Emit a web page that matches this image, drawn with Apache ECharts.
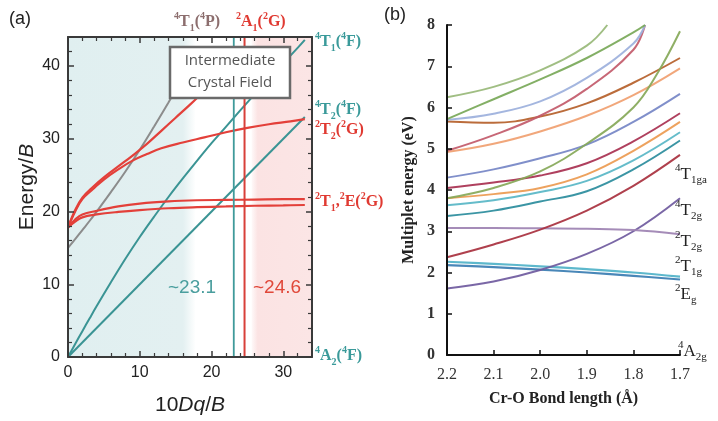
<!DOCTYPE html>
<html><head><meta charset="utf-8">
<script src="https://cdn.jsdelivr.net/npm/echarts@6/dist/echarts.min.js"></script>
<style>html,body{margin:0;padding:0;background:#fff}#c{width:718px;height:421px}</style>
</head><body><div id="c"></div>
<script>
// ---------- Panel (a): Tanabe-Sugano style diagram ----------
const aXs   = [0,1,2,3,4,6,8,10,12,14,16,18,20,22,24,26,28,30,32,33];
const a4T1F = [0,1.79,3.55,5.29,7.0,10.3,13.5,16.5,19.3,22.0,24.55,27.0,29.4,31.65,33.9,36.1,38.3,40.4,42.5,43.6];
const a4T1P_x = [0,1,2,3,4,6,8,10,12,14,16];
const a4T1P   = [15.0,16.2,17.45,18.7,20.0,22.7,25.5,28.5,31.7,35.0,38.4];
const a4T2_x = [0,33];
const a4T2   = [0,33];
const a4A2_x = [0,34];
const a4A2   = [0,0];
const a2A1_x = [0,1,2,3.5,5,7,9,11,13,15,17,19,21];
const a2A1   = [17.8,20.2,21.9,23.4,24.7,26.2,27.7,29.3,31.1,32.9,34.7,36.6,38.5];
const a2T2_x = [0,1,2,3.5,5,7,9,11,13,16,19,22,25,28,31,33];
const a2T2   = [17.8,20.0,21.7,23.1,24.4,25.8,27.0,27.9,28.7,29.5,30.2,30.9,31.5,32.0,32.4,32.7];
const aFlat_x = [0,1,2,4,7,10,14,18,22,26,30,33];
const a2T1   = [17.8,18.9,19.6,20.1,20.7,21.1,21.4,21.55,21.6,21.65,21.7,21.7];
const a2E    = [17.8,18.6,19.2,19.6,19.95,20.2,20.45,20.6,20.7,20.8,20.85,20.9];
const aCritical = [23.1, 24.6];
const aWeakRange = [0, 17.8];
const aStrongRange = [25.6, 34];

// ---------- Panel (b): multiplet energies vs Cr-O bond length ----------
const bR = [2.2,2.1,2.0,1.9,1.8,1.7];
const b4A2g   = [0,0,0,0,0,0];
const b2Eg    = [2.18,2.13,2.07,2.0,1.92,1.83];
const b2T1g   = [2.26,2.21,2.15,2.08,2.0,1.9];
const b4T2g   = [1.61,1.78,2.06,2.45,3.0,3.8];
const b2T2g   = [3.08,3.08,3.07,3.06,3.03,2.93];
const b4T1ga  = [2.37,2.68,3.04,3.5,4.1,4.85];
const bTeal   = [3.37,3.5,3.72,3.97,4.5,5.2];
const bCyan   = [3.63,3.75,3.95,4.22,4.72,5.4];
const bOrange = [3.8,3.9,4.05,4.38,4.95,5.65];
const bDarkRed= [4.05,4.18,4.35,4.65,5.18,5.86];
const bBlueP  = [4.3,4.5,4.77,5.1,5.65,6.33];
const bSalmon = [4.92,5.12,5.42,5.8,6.3,6.95];
const bBrown  = [5.66,5.63,5.78,6.1,6.6,7.2];
const bGreenS_x = [2.2,2.1,2.0,1.9,1.8,1.75,1.7];
const bGreenS   = [3.8,4.05,4.45,5.12,6.0,6.8,7.85];
const bTop_x  = [2.2,2.1,2.0,1.9,1.8,1.775];
const bMauve  = [4.95,5.33,5.8,6.45,7.4,8.0];
const bLightB = [5.7,5.85,6.15,6.72,7.55,8.0];
const bGreenM = [5.72,6.2,6.68,7.2,7.82,8.0];
const bGreenT_x = [2.2,2.1,2.0,1.9,1.856];
const bGreenT   = [6.25,6.5,6.9,7.5,8.0];

const pairs = (xs, ys) => xs.map((x, i) => [x, ys[i]]);

const TEAL = '#3a9494', RED = '#e3403a', GREY = '#8c8c8c';
function lineA(xs, ys, color, w, extra) {
  return Object.assign({type:'line', xAxisIndex:0, yAxisIndex:0, data:pairs(xs, ys), smooth:0.4,
    showSymbol:false, symbol:'none', lineStyle:{color, width:w}, silent:true, z:3}, extra || {});
}
function lineB(xs, ys, color, w) {
  return {type:'line', xAxisIndex:2, yAxisIndex:2, data:pairs(xs, ys), smooth:0.4,
    showSymbol:false, symbol:'none', lineStyle:{color, width:w || 2, opacity:0.92}, silent:true, z:3};
}
function rich(color, size, weight) {
  const f = 'Liberation Serif', s = Math.round(size*0.62);
  return {
    m:{color, fontSize:size, fontWeight:weight, fontFamily:f, lineHeight:size+6, verticalAlign:'middle'},
    p:{color, fontSize:s, fontWeight:weight, fontFamily:f, lineHeight:s+2, verticalAlign:'top'},
    b:{color, fontSize:s, fontWeight:weight, fontFamily:f, lineHeight:s+2, verticalAlign:'bottom'}
  };
}
function lab(text, left, top, color, size, weight) {
  return {text, left, top, padding:0, z:20, textStyle:{rich:rich(color, size, weight)}};
}
const DARK = '#3a3a3a';
const commonA = {type:'value', z:10, splitLine:{show:false},
  axisLine:{show:true, onZero:false, lineStyle:{color:DARK, width:2}},
  axisTick:{show:true, inside:true, length:6, lineStyle:{color:DARK, width:1.5}},
  minorTick:{show:true, splitNumber:5, length:4, lineStyle:{color:DARK, width:1.2}}};
const fmt10 = v => (Math.abs(v % 10) < 1e-6 ? String(v) : '');
const axisB = {type:'value', z:10, splitLine:{show:false},
  axisLine:{show:true, onZero:false, lineStyle:{color:'#111', width:2}},
  axisTick:{show:true, inside:true, length:5, lineStyle:{color:'#111', width:1.5}}};

const option = {
  animation:false,
  backgroundColor:'#fff',
  title:[
    {text:'(a)', left:9, top:10, padding:0, textStyle:{fontFamily:'Liberation Sans', fontSize:18, fontWeight:'normal', color:'#222'}},
    {text:'(b)', left:384, top:6, padding:0, textStyle:{fontFamily:'Liberation Sans', fontSize:18, fontWeight:'normal', color:'#222'}},
    lab('{p|4}{m|T}{b|1}{m|(}{p|4}{m|P)}', 174, 11, '#8c6e6e', 16, 'bold'),
    lab('{p|2}{m|A}{b|1}{m|(}{p|2}{m|G)}', 236, 11, '#e03a32', 16, 'bold'),
    lab('{p|4}{m|T}{b|1}{m|(}{p|4}{m|F)}', 315, 31, '#3a9a9a', 16, 'bold'),
    lab('{p|4}{m|T}{b|2}{m|(}{p|4}{m|F)}', 315, 99, '#3a9a9a', 16, 'bold'),
    lab('{p|2}{m|T}{b|2}{m|(}{p|2}{m|G)}', 315, 119, '#e03a32', 16, 'bold'),
    lab('{p|2}{m|T}{b|1}{m|,}{p|2}{m|E(}{p|2}{m|G)}', 315, 191, '#e03a32', 16, 'bold'),
    lab('{p|4}{m|A}{b|2}{m|(}{p|4}{m|F)}', 315, 345, '#3a9a9a', 16, 'bold'),
    {text:'~23.1', left:168, top:278, padding:0, textStyle:{fontFamily:'Liberation Sans', fontSize:19, fontWeight:'normal', color:'#4a9e9e', lineHeight:20}},
    {text:'~24.6', left:253, top:278, padding:0, textStyle:{fontFamily:'Liberation Sans', fontSize:19, fontWeight:'normal', color:'#e0483a', lineHeight:20}},
    lab('{p|4}{m|T}{b|1ga}', 675, 163, '#222', 17, 'normal'),
    lab('{p|4}{m|T}{b|2g}', 675, 199, '#222', 17, 'normal'),
    lab('{p|2}{m|T}{b|2g}', 675, 230, '#222', 17, 'normal'),
    lab('{p|2}{m|T}{b|1g}', 675, 255, '#222', 17, 'normal'),
    lab('{p|2}{m|E}{b|g}', 675, 283, '#222', 17, 'normal'),
    lab('{p|4}{m|A}{b|2g}', 678, 340, '#222', 17, 'normal')
  ],
  grid:[
    {left:68, top:37, width:244, height:320},
    {left:447, top:25, width:233, height:330}
  ],
  xAxis:[
    Object.assign({}, commonA, {gridIndex:0, min:0, max:34, interval:10, position:'bottom',
      axisLabel:{fontFamily:'Liberation Sans', fontSize:16, color:'#222', margin:8, formatter:fmt10},
      name:'10{i|Dq}/{i|B}', nameLocation:'middle', nameGap:38,
      nameTextStyle:{fontFamily:'Liberation Sans', fontSize:21, color:'#222',
        rich:{i:{fontFamily:'Liberation Sans', fontSize:21, fontStyle:'italic', color:'#222'}}}}),
    Object.assign({}, commonA, {gridIndex:0, min:0, max:34, interval:10, position:'top',
      axisLabel:{show:false}}),
    Object.assign({}, axisB, {gridIndex:1, inverse:true, min:1.7, max:2.2, interval:0.1,
      axisLabel:{fontFamily:'Liberation Serif', fontSize:16, color:'#333', margin:12, formatter:v => v.toFixed(1)},
      name:'Cr-O Bond length (Å)', nameLocation:'middle', nameGap:36,
      nameTextStyle:{fontFamily:'Liberation Serif', fontSize:16, fontWeight:'bold', color:'#222'}})
  ],
  yAxis:[
    Object.assign({}, commonA, {gridIndex:0, min:0, max:44, interval:10, position:'left',
      axisLabel:{fontFamily:'Liberation Sans', fontSize:16, color:'#222', margin:8, formatter:fmt10},
      name:'Energy/{i|B}', nameLocation:'middle', nameGap:30, nameRotate:90,
      nameTextStyle:{fontFamily:'Liberation Sans', fontSize:21, color:'#222', padding:[0,0,0,20],
        rich:{i:{fontFamily:'Liberation Sans', fontSize:21, fontStyle:'italic', color:'#222'}}}}),
    Object.assign({}, commonA, {gridIndex:0, min:0, max:44, interval:10, position:'right',
      axisLabel:{show:false}}),
    Object.assign({}, axisB, {gridIndex:1, min:0, max:8, interval:1,
      axisLabel:{fontFamily:'Liberation Serif', fontSize:16, fontWeight:'bold', color:'#333', margin:12},
      name:'Multiplet energy (eV)', nameLocation:'middle', nameGap:30, nameRotate:90,
      nameTextStyle:{fontFamily:'Liberation Serif', fontSize:16, fontWeight:'bold', color:'#222'}})
  ],
  graphic:[
    {type:'rect', z:100, shape:{x:170, y:47, width:120, height:51},
      style:{fill:'#fff', stroke:'#6a6a6a', lineWidth:2.5}},
    {type:'text', z:101, x:230, y:72,
      style:{text:'Intermediate\nCrystal Field', fill:'#555', font:'15px "Open Sans"',
        align:'center', verticalAlign:'middle', textAlign:'center', textVerticalAlign:'middle', lineHeight:22}}
  ],
  series:[
    lineA(a4A2_x, a4A2, TEAL, 2, {markArea:{silent:true, data:[
      [{xAxis:aWeakRange[0], itemStyle:{color:{type:'linear', x:0, y:0, x2:1, y2:0, colorStops:[
        {offset:0, color:'#e0eff0'}, {offset:0.9, color:'#e3f0f1'}, {offset:1, color:'rgba(227,240,241,0)'}]}}},
       {xAxis:aWeakRange[1]}],
      [{xAxis:aStrongRange[0], itemStyle:{color:{type:'linear', x:0, y:0, x2:1, y2:0, colorStops:[
        {offset:0, color:'rgba(251,226,226,0.2)'}, {offset:0.1, color:'#fbe3e3'}, {offset:1, color:'#fbe5e5'}]}}},
       {xAxis:aStrongRange[1]}]
    ]}, z:1}),
    lineA(a4T1P_x, a4T1P, GREY, 2),
    lineA(aXs, a4T1F, TEAL, 2),
    lineA(a4T2_x, a4T2, TEAL, 2),
    lineA(aFlat_x, a2T1, RED, 2.2),
    lineA(aFlat_x, a2E, RED, 2.2),
    lineA(a2T2_x, a2T2, RED, 2.2),
    lineA(a2A1_x, a2A1, RED, 2.2),
    lineA([aCritical[0], aCritical[0]], [0, 44], '#3f9a9a', 1.8, {smooth:false}),
    lineA([aCritical[1], aCritical[1]], [0, 44], '#d8403a', 2, {smooth:false}),

    lineB(bR, b4A2g, '#a8d6ea', 2),
    lineB(bR, b2Eg, '#3a7db2', 2.2),
    lineB(bR, b2T1g, '#4fb2c8', 2.2),
    lineB(bR, b4T2g, '#6f5a9e'),
    lineB(bR, b2T2g, '#9d82b2'),
    lineB(bR, b4T1ga, '#a8303e'),
    lineB(bR, bTeal, '#2a8c9c'),
    lineB(bR, bCyan, '#58b6c6'),
    lineB(bR, bOrange, '#ec9a50'),
    lineB(bR, bDarkRed, '#a83050'),
    lineB(bR, bBlueP, '#7585c5'),
    lineB(bR, bSalmon, '#f0a070'),
    lineB(bR, bBrown, '#b5602a'),
    lineB(bGreenS_x, bGreenS, '#86a858'),
    lineB(bTop_x, bMauve, '#c25a6a'),
    lineB(bTop_x, bLightB, '#9cb0dc'),
    lineB(bTop_x, bGreenM, '#78a858'),
    lineB(bGreenT_x, bGreenT, '#98b878')
  ]
};
echarts.init(document.getElementById('c')).setOption(option);
</script></body></html>
